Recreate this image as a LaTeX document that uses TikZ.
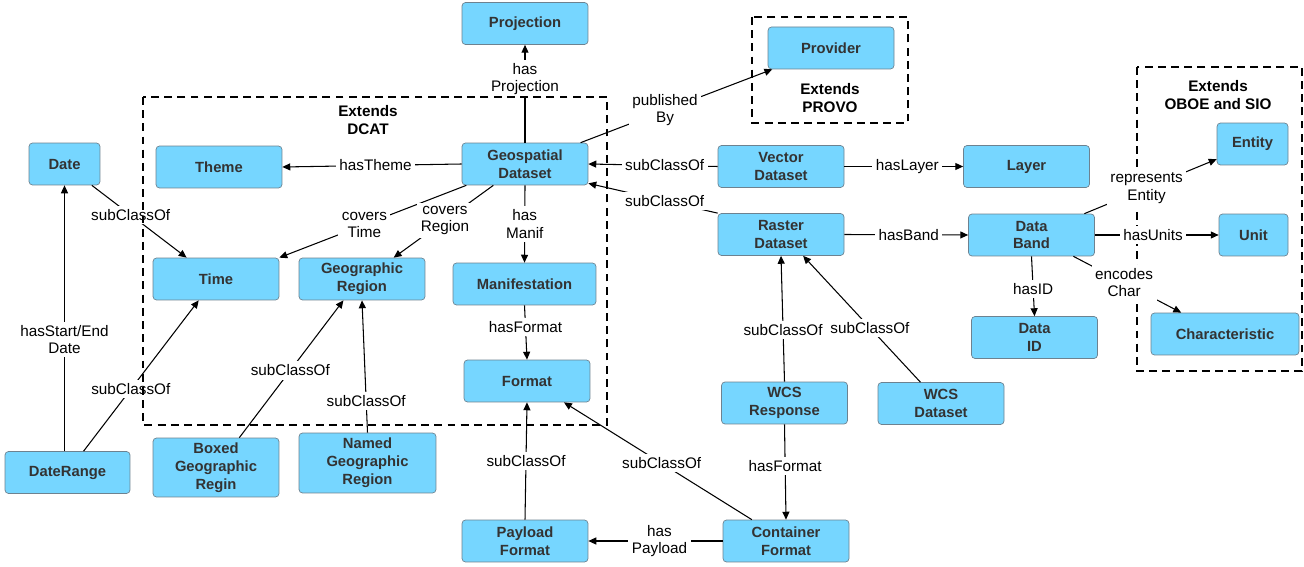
\documentclass[tikz,border=0pt]{standalone}
\usepackage{fontspec}
\setmainfont{Liberation Sans}
\usetikzlibrary{positioning, arrows.meta}
\definecolor{cls_fill}{HTML}{76D6FF}
\definecolor{cls_line}{HTML}{6D8290}
\definecolor{cls_text}{HTML}{333333}

\begin{document}
\begin{tikzpicture}[
    x=0.02cm, y=-0.02cm,
    font=\fontsize{8.7}{9.8}\selectfont,
    >={Triangle[length=4.5pt,width=4pt]},
    cls/.style={draw=cls_line, fill=cls_fill, rounded corners=2pt, align=center,
        minimum width=2.52cm, minimum height=0.84cm, inner sep=1pt,
        text=cls_text, font=\fontsize{8.4}{10.2}\selectfont\bfseries},
    rel/.style={->, line width=0.6pt},
    lbl/.style={fill=white, inner sep=2pt, align=center},
    ext/.style={dashed, dash pattern=on 4.5pt off 3pt, line width=0.6pt},
    exttitle/.style={font=\fontsize{8.7}{10.2}\selectfont\bfseries, align=center}
]
\useasboundingbox (0,0) rectangle (1304,567);

% --- Classi ---
\node[cls] (proj) at (525,23.5) {Projection};
\node[cls] (prov) at (831,48) {Provider};
\node[cls, minimum width=1.42cm] (date) at (64.5,164) {Date};
\node[cls] (theme) at (219,167) {Theme};
\node[cls] (geo) at (525,164) {Geospatial\\Dataset};
\node[cls] (vec) at (781,166.5) {Vector\\Dataset};
\node[cls] (layer) at (1026.5,166.5) {Layer};
\node[cls, minimum width=1.42cm] (entity) at (1252.5,144) {Entity};
\node[cls] (time) at (216,279) {Time};
\node[cls] (georeg) at (362,279) {Geographic\\Region};
\node[cls, minimum width=2.86cm] (manif) at (524.5,284) {Manifestation};
\node[cls] (ras) at (781,234.5) {Raster\\Dataset};
\node[cls] (band) at (1031.5,235) {Data\\Band};
\node[cls, minimum width=1.38cm] (unit) at (1253.5,235) {Unit};
\node[cls] (did) at (1034.5,337.5) {Data\\ID};
\node[cls, minimum width=2.96cm] (char) at (1225,334) {Characteristic};
\node[cls] (format) at (527,381) {Format};
\node[cls] (wcsr) at (784.5,403) {WCS\\Response};
\node[cls] (wcsd) at (941,403.5) {WCS\\Dataset};
\node[cls, minimum width=2.5cm] (dr) at (67.5,472.5) {DateRange};
\node[cls, minimum height=1.18cm] (boxed) at (216,467.5) {Boxed\\Geographic\\Regin};
\node[cls, minimum width=2.74cm, minimum height=1.2cm] (named) at (367.5,463) {Named\\Geographic\\Region};
\node[cls] (pay) at (525,541) {Payload\\Format};
\node[cls] (cont) at (786,541) {Container\\Format};

% --- Estensione OBOE / SIO ---
\draw[ext] (1137,67) rectangle (1302,371);
\node[exttitle] (oboe) at (1218,95) {Extends\\OBOE and SIO};

% --- Relazioni ---
\draw[rel] (geo.north) -- node[lbl, pos=0.65] {has\\Projection} (proj.south);
\draw[rel] (geo.21) -- node[lbl, pos=0.44] {published\\By} (prov.200);
\draw[rel] (geo.west) -- node[lbl, pos=0.48] {hasTheme} (theme.east);
\draw[rel] (vec.west) -- node[lbl, pos=0.41] {subClassOf} (geo.east);
\draw[rel] (ras.north west) -- node[lbl, pos=0.41] {subClassOf} (geo.-17);
\draw[rel] (vec.east) -- node[lbl, pos=0.53] {hasLayer} (layer.west);
\draw[rel] (ras.east) -- node[lbl, pos=0.52] {hasBand} (band.west);
\draw[rel] (band.22) -- node[lbl, pos=0.47] {represents\\Entity} (entity.203);
\draw[rel] (band.east) -- node[lbl, pos=0.47] {hasUnits} (unit.west);
\draw[rel] (band.-27) -- node[lbl, pos=0.47] {encodes\\Char} (char.154);
\draw[rel] (band.south) -- node[lbl, pos=0.54] {hasID} (did.north);
\draw[rel] (geo.-160) -- node[lbl, pos=0.545] {covers\\Time} (time.north east);
\draw[rel] (geo.-146) -- node[lbl, pos=0.485] {covers\\Region} (georeg.34);
\draw[rel] (geo.south) -- node[lbl, pos=0.5] {has\\Manif} (manif.north);
\draw[rel] (manif.south) -- node[lbl, pos=0.4] {hasFormat} (format.north);
\draw[rel] (date.-38) -- node[lbl, pos=0.41] {subClassOf} (time.144);
\draw[rel] (date.south |- dr.north) -- node[lbl, pos=0.42] {hasStart/End\\Date} (date.south);
\draw[rel] (dr.53) -- node[lbl, pos=0.41] {subClassOf} (time.231);
\draw[rel] (boxed.52) -- node[lbl, pos=0.49] {subClassOf} (georeg.229);
\draw[rel] (named.north) -- node[lbl, pos=0.24] {subClassOf} (georeg.south);
\draw[rel] (pay.north) -- node[lbl, pos=0.5] {subClassOf} (format.south);
\draw[rel] (cont.148) -- node[lbl, pos=0.48] {subClassOf} (format.-30);
\draw[rel] (wcsr.north) -- node[lbl, pos=0.41] {subClassOf} (ras.south);
\draw[rel] (wcsd.134) -- node[lbl, pos=0.43] {subClassOf} (ras.-44);
\draw[rel] (wcsr.south) -- node[lbl, pos=0.44] {hasFormat} (cont.north);
\draw[rel] (cont.west) -- node[lbl, pos=0.47] {has\\Payload} (pay.east);

% --- Estensioni DCAT e PROVO ---
\draw[ext] (143,97) rectangle (607,425);
\node[exttitle] (dcat) at (368,120) {Extends\\DCAT};
\draw[ext] (752,17) rectangle (908,123);
\node[exttitle] (provo) at (830,98) {Extends\\PROVO};

\end{tikzpicture}
\end{document}
